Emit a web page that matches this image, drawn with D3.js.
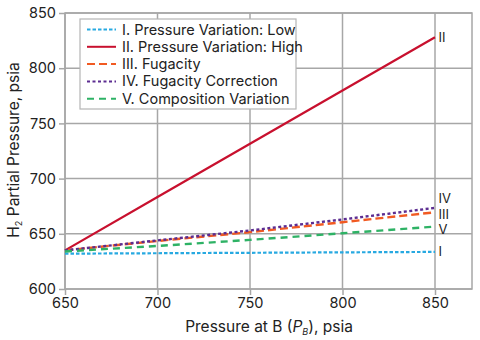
<!DOCTYPE html>
<html>
<head>
<meta charset="utf-8">
<script src="https://cdn.jsdelivr.net/npm/d3@7"></script>
<style>
  html, body { margin: 0; padding: 0; background: #fff; }
  svg { display: block; font-family: Inter, "Open Sans", sans-serif; }
</style>
</head>
<body>
<svg id="chart" width="480" height="340"></svg>
<script>
// Pressure at B, psia
const pressureB = [650, 700, 750, 800, 850];

// H2 partial pressure, psia, for each case
const lowVariation  = [632, 632.4, 632.8, 633.2, 633.6];
const highVariation = [635, 683.3, 731.5, 779.8, 828];
const fugacity      = [635, 643.5, 651.5, 660.5, 669.5];
const fugacityCorr  = [635, 644, 653, 663, 673.5];
const composition   = [634, 639, 644.5, 650.5, 656.5];

const seriesNames  = ["I. Pressure Variation: Low", "II. Pressure Variation: High",
                      "III. Fugacity", "IV. Fugacity Correction", "V. Composition Variation"];
const endLabels    = ["I", "II", "III", "IV", "V"];
const xTicks = [650, 700, 750, 800, 850];
const yTicks = [600, 650, 700, 750, 800, 850];

const series = [
  { name: seriesNames[0], tag: endLabels[0], values: lowVariation,  color: "#27a9e1", dash: "3.5,2",  width: 2.2, dy: 0 },
  { name: seriesNames[1], tag: endLabels[1], values: highVariation, color: "#c8102e", dash: null,     width: 2.2, dy: 0 },
  { name: seriesNames[2], tag: endLabels[2], values: fugacity,      color: "#f15a22", dash: "8,4",    width: 2.4, dy: 1.8 },
  { name: seriesNames[3], tag: endLabels[3], values: fugacityCorr,  color: "#5c2d91", dash: "3,2.5",  width: 2.4, dy: -9.2 },
  { name: seriesNames[4], tag: endLabels[4], values: composition,   color: "#2eb265", dash: "7,5",    width: 2.4, dy: 2.8 }
];

const svg = d3.select("#chart");
const m = { left: 65, right: 472, top: 13, bottom: 289 };

const x = d3.scaleLinear().domain([650, 870]).range([m.left, m.right]);
const y = d3.scaleLinear().domain([600, 850]).range([m.bottom, m.top]);

const gridColor = "#a7a7a7";
const textColor = "#222";

// grid lines
const grid = svg.append("g");
grid.selectAll("line.v").data(xTicks).join("line")
  .attr("x1", d => x(d)).attr("x2", d => x(d))
  .attr("y1", m.top).attr("y2", m.bottom)
  .attr("stroke", gridColor).attr("stroke-width", 1.5);
grid.selectAll("line.h").data(yTicks).join("line")
  .attr("x1", m.left).attr("x2", m.right)
  .attr("y1", d => y(d)).attr("y2", d => y(d))
  .attr("stroke", gridColor).attr("stroke-width", 1.5);
// frame
grid.append("rect")
  .attr("x", m.left).attr("y", m.top)
  .attr("width", m.right - m.left).attr("height", m.bottom - m.top)
  .attr("fill", "none").attr("stroke", gridColor).attr("stroke-width", 1.5);

// axes
const xAxis = svg.append("g")
  .attr("transform", `translate(0,${m.bottom})`)
  .call(d3.axisBottom(x).tickValues(xTicks).tickSize(6).tickPadding(3).tickFormat(d3.format("d")));
const yAxis = svg.append("g")
  .attr("transform", `translate(${m.left},0)`)
  .call(d3.axisLeft(y).tickValues(yTicks).tickSize(6).tickPadding(3).tickFormat(d3.format("d")));
[xAxis, yAxis].forEach(a => {
  a.select(".domain").remove();
  a.selectAll(".tick line").attr("stroke", gridColor).attr("stroke-width", 1.5);
  a.selectAll(".tick text").attr("fill", textColor).style("font-size", "14.5px")
    .style("font-family", "Inter, 'Open Sans', sans-serif");
});

// lines
const line = d3.line().x((d, i) => x(pressureB[i])).y(d => y(d));
series.forEach(s => {
  svg.append("path")
    .datum(s.values)
    .attr("d", line)
    .attr("fill", "none")
    .attr("stroke", s.color)
    .attr("stroke-width", s.width)
    .attr("stroke-dasharray", s.dash);
});

// end-of-line labels
series.forEach(s => {
  svg.append("text")
    .attr("x", x(850) + 3.5)
    .attr("y", y(s.values[s.values.length - 1]) + s.dy)
    .attr("dy", "0.35em")
    .attr("fill", textColor)
    .style("font-size", "13px")
    .text(s.tag);
});

// legend
const lg = svg.append("g").attr("transform", "translate(80,19)");
lg.append("rect").attr("width", 216).attr("height", 90)
  .attr("fill", "#fff").attr("stroke", "#b5b5b5").attr("stroke-width", 1.2);
series.forEach((s, i) => {
  const cy = 10.5 + i * 17.3;
  lg.append("line")
    .attr("x1", 7).attr("x2", 36).attr("y1", cy).attr("y2", cy)
    .attr("stroke", s.color).attr("stroke-width", 2)
    .attr("stroke-dasharray", s.dash);
  lg.append("text")
    .attr("x", 42).attr("y", cy).attr("dy", "0.35em")
    .attr("fill", textColor).style("font-size", "14.5px")
    .text(s.name);
});

// axis titles
svg.append("text")
  .attr("x", 269).attr("y", 332)
  .attr("text-anchor", "middle").attr("fill", textColor).style("font-size", "15.5px")
  .call(t => {
    t.append("tspan").text("Pressure at B (");
    t.append("tspan").attr("font-style", "italic").text("P");
    t.append("tspan").attr("font-style", "italic").attr("dy", 3).style("font-size", "9px").text("B");
    t.append("tspan").attr("dy", -3).text("), psia");
  });

svg.append("text")
  .attr("transform", "translate(19,150) rotate(-90)")
  .attr("text-anchor", "middle").attr("fill", textColor).style("font-size", "15.5px")
  .call(t => {
    t.append("tspan").text("H");
    t.append("tspan").attr("dy", 3).style("font-size", "9px").text("2");
    t.append("tspan").attr("dy", -3).text(" Partial Pressure, psia");
  });
</script>
</body>
</html>
